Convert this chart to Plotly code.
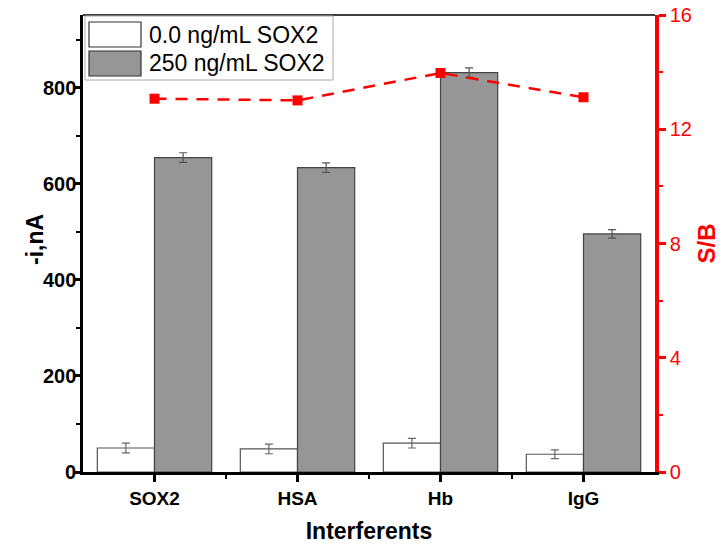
import plotly.graph_objects as go

categories = ["SOX2", "HSA", "Hb", "IgG"]
blank_vals = [50, 48, 60, 37]
blank_err = [10, 10, 10, 9]
sox2_vals = [655, 634, 832, 496]
sox2_err = [10, 10, 10, 9]
sb_vals = [13.07, 13.01, 13.97, 13.12]

legend_names = ["0.0 ng/mL SOX2", "250 ng/mL SOX2"]
fills = ["white", "#969696"]
y_ticks = [0, 200, 400, 600, 800]

FONT = "Liberation Sans, Arial, sans-serif"
x = list(range(len(categories)))

fig = go.Figure()
fig.add_trace(go.Bar(
    x=x, y=blank_vals, name=legend_names[0], showlegend=False,
    marker=dict(color=fills[0], line=dict(color="#555555", width=1.2)),
    error_y=dict(type="data", array=blank_err, color="#666666", thickness=1.2, width=4),
))
fig.add_trace(go.Bar(
    x=x, y=sox2_vals, name=legend_names[1], showlegend=False,
    marker=dict(color=fills[1], line=dict(color="#444444", width=1.2)),
    error_y=dict(type="data", array=sox2_err, color="#555555", thickness=1.2, width=4),
))
fig.add_trace(go.Scatter(
    x=x, y=sb_vals, yaxis="y2", mode="lines+markers", showlegend=False,
    line=dict(color="red", width=2.5, dash="12px,9px"),
    marker=dict(symbol="square", size=10, color="red"),
))

# manual legend and titles (paper coordinates, plot area 83..655 x 15..472 px)
W, H = 728, 550
L, R, T, B = 83, 73, 15, 78
pw, ph = W - L - R, H - T - B
def px(xp):
    return (xp - L) / pw
def py(yp):
    return 1 - (yp - T) / ph

shapes = [dict(type="line", xref="paper", yref="paper", x0=0, x1=1, y0=1, y1=1,
               line=dict(color="black", width=1.5)),
          dict(type="rect", xref="paper", yref="paper", x0=px(85), x1=px(333), y0=py(80), y1=py(16),
               line=dict(color="#aaaaaa", width=1), fillcolor="white", layer="above")]
annotations = []
for i, (nm, fc) in enumerate(zip(legend_names, fills)):
    y0 = 22 + i * 29
    shapes.append(dict(type="rect", xref="paper", yref="paper", x0=px(89), x1=px(141),
                       y0=py(y0 + 25), y1=py(y0), fillcolor=fc,
                       line=dict(color="#333333", width=1.2), layer="above"))
    annotations.append(dict(xref="paper", yref="paper", x=px(147), y=py(y0 + 12.5),
                            xanchor="left", yanchor="middle", text=nm, showarrow=False,
                            font=dict(size=23, family=FONT, color="black")))

# left tick labels placed close to the axis like the reference
for v in y_ticks:
    annotations.append(dict(xref="paper", yref="y", x=px(78), y=v, xanchor="right", yanchor="middle",
                            text=str(v), showarrow=False,
                            font=dict(size=20, weight="bold", family=FONT, color="black")))

annotations.append(dict(xref="paper", yref="paper", x=px(35), y=py(240), textangle=-90,
                        xanchor="center", yanchor="middle", text="-i,nA", showarrow=False,
                        font=dict(size=23, weight="bold", family=FONT, color="black")))

fig.update_layout(
    width=W, height=H,
    margin=dict(l=L, r=R, t=T, b=B),
    paper_bgcolor="white", plot_bgcolor="white",
    barmode="group", bargap=0.2, bargroupgap=0,
    font=dict(family=FONT, color="black"),
    showlegend=False,
    xaxis=dict(
        range=[-0.5, 3.5], tickmode="array", tickvals=x, ticktext=categories,
        showline=True, linecolor="black", linewidth=3, automargin=False,
        ticks="outside", ticklen=7, tickwidth=2.5, tickcolor="black",
        minor=dict(tickvals=[0.5, 1.5, 2.5], ticks="outside", ticklen=4, tickwidth=2, tickcolor="black"),
        showgrid=False, zeroline=False,
        tickfont=dict(size=19, weight="bold", family=FONT),
        title=dict(text="Interferents", font=dict(size=23, weight="bold", family=FONT), standoff=16),
    ),
    yaxis=dict(
        range=[0, 952], tickmode="array", tickvals=y_ticks, showticklabels=False,
        showline=True, linecolor="black", linewidth=3, automargin=False,
        ticks="outside", ticklen=6, tickwidth=2.5, tickcolor="black",
        minor=dict(tickvals=[100, 300, 500, 700, 900], ticks="outside", ticklen=4, tickwidth=2, tickcolor="black"),
        showgrid=False, zeroline=False,
    ),
    yaxis2=dict(
        range=[0, 16], overlaying="y", side="right", tickmode="array", tickvals=[0, 4, 8, 12, 16],
        showline=True, linecolor="red", linewidth=3.5, automargin=False,
        ticks="outside", ticklen=7, tickwidth=2.5, tickcolor="red",
        minor=dict(tickvals=[2, 6, 10, 14], ticks="outside", ticklen=4, tickwidth=2, tickcolor="red"),
        showgrid=False, zeroline=False,
        tickfont=dict(size=20, color="red", family=FONT),
        title=dict(text="S/B", font=dict(size=24, weight="bold", color="red", family=FONT), standoff=8),
    ),
    shapes=shapes,
    annotations=annotations,
)

fig.write_html("out.html")
